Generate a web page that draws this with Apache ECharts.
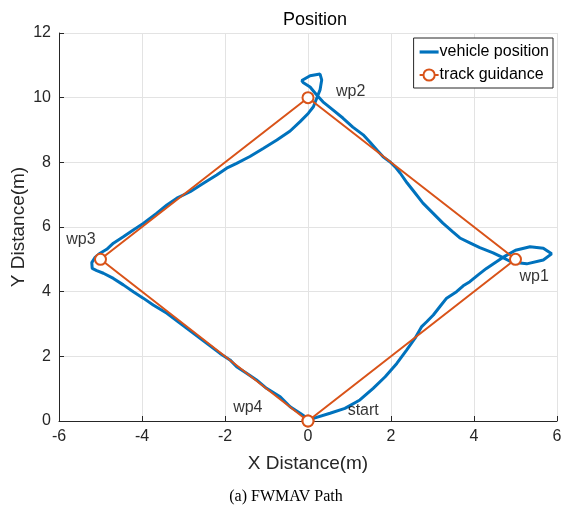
<!DOCTYPE html>
<html>
<head>
<meta charset="utf-8">
<script src="https://cdn.jsdelivr.net/npm/echarts@6/dist/echarts.min.js"></script>
<style>html,body{margin:0;padding:0;background:#fff;}#c{width:563px;height:517px;}</style>
</head>
<body>
<div id="c"></div>
<script>
const xTicks = [-6, -4, -2, 0, 2, 4, 6];
const yTicks = [0, 2, 4, 6, 8, 10, 12];

const vehicleX = [0.05,0.13,0.53,0.89,1.25,1.57,1.86,2.14,2.38,2.58,2.74,2.86,3.02,3.18,3.34,3.58,3.74,3.90,4.10,4.30,4.55,4.75,5.0,5.35,5.67,5.87,5.67,5.27,4.9,4.7,4.46,4.14,3.90,3.66,3.49,3.25,3.01,2.77,2.58,2.39,2.22,2.10,1.98,1.81,1.66,1.49,1.33,1.08,0.84,0.60,0.36,0.2,0.05,-0.11,-0.15,0.05,0.29,0.33,0.29,0.21,0.13,0.01,-0.19,-0.43,-0.75,-1.08,-1.40,-1.72,-1.96,-2.20,-2.52,-2.84,-3.16,-3.40,-3.65,-3.97,-4.21,-4.45,-4.69,-4.85,-5.01,-5.13,-5.21,-5.20,-5.09,-4.93,-4.69,-4.45,-4.21,-3.97,-3.73,-3.40,-3.08,-2.76,-2.44,-2.12,-1.88,-1.72,-1.48,-1.24,-1.00,-0.67,-0.43,-0.19,-0.07,0.0];
const vehicleY = [0.0,0.08,0.24,0.39,0.65,1.01,1.37,1.78,2.20,2.56,2.92,3.07,3.28,3.54,3.80,4.0,4.18,4.31,4.52,4.72,4.93,5.1,5.28,5.39,5.34,5.17,4.98,4.86,4.92,5.05,5.2,5.36,5.51,5.66,5.85,6.12,6.43,6.74,7.05,7.36,7.67,7.86,8.01,8.17,8.38,8.63,8.85,9.09,9.37,9.62,9.87,10.1,10.33,10.46,10.53,10.68,10.73,10.55,10.24,9.98,9.72,9.52,9.26,8.97,8.69,8.43,8.18,7.97,7.82,7.61,7.35,7.09,6.89,6.68,6.42,6.11,5.91,5.70,5.50,5.31,5.19,5.06,4.90,4.72,4.65,4.57,4.41,4.21,4.00,3.80,3.59,3.33,3.02,2.71,2.40,2.09,1.89,1.68,1.48,1.27,1.01,0.75,0.44,0.24,0.13,0.03];

const trackX = [0, 5, 0, -5, 0];
const trackY = [0, 5, 10, 5, 0];

const labelNames = ['wp1', 'wp2', 'wp3', 'wp4', 'start'];
const labelX = [5.45, 1.03, -5.47, -1.45, 1.33];
const labelY = [4.48, 10.2, 5.6, 0.40, 0.31];

const FONT = 'Liberation Sans, Arial, Helvetica, sans-serif';
const chart = echarts.init(document.getElementById('c'), null, {renderer: 'canvas'});
chart.setOption({
  animation: false,
  backgroundColor: '#ffffff',
  title: {
    text: 'Position', left: 310, top: 6, textAlign: 'center',
    textStyle: {fontFamily: FONT, fontSize: 18, fontWeight: 'normal', color: '#000'}
  },
  legend: {
    data: [
      {name: 'vehicle position', icon: 'path://M0,0 L18,0 L18,3 L0,3 Z'},
      {name: 'track guidance'}
    ],
    orient: 'vertical', right: 10, top: 38,
    backgroundColor: '#fff', borderColor: '#262626', borderWidth: 1,
    padding: [6, 4, 5, 5], itemGap: 7, itemWidth: 19, itemHeight: 14,
    textStyle: {fontFamily: FONT, fontSize: 16, color: '#000', padding: [0, 0, 0, -4]}
  },
  grid: {left: 59, right: 6, top: 33, bottom: 96, containLabel: false, outerBoundsMode: 'none'},
  xAxis: {
    type: 'value', min: xTicks[0], max: xTicks[xTicks.length - 1], interval: 2,
    name: 'X Distance(m)', nameLocation: 'middle', nameGap: 33, nameMoveOverlap: false,
    nameTextStyle: {fontFamily: FONT, fontSize: 19, color: '#262626'},
    axisLine: {show: true, onZero: false, lineStyle: {color: '#262626', width: 1}},
    axisTick: {show: true, inside: true, length: 5, lineStyle: {color: '#262626'}},
    axisLabel: {fontFamily: FONT, fontSize: 16, color: '#262626', margin: 8},
    splitLine: {show: true, lineStyle: {color: '#e3e3e3', width: 1}}
  },
  yAxis: {
    type: 'value', min: yTicks[0], max: yTicks[yTicks.length - 1], interval: 2,
    name: 'Y Distance(m)', nameLocation: 'middle', nameGap: 31, nameMoveOverlap: false,
    nameTextStyle: {fontFamily: FONT, fontSize: 19, color: '#262626'},
    axisLine: {show: true, onZero: false, lineStyle: {color: '#262626', width: 1}},
    axisTick: {show: true, inside: true, length: 5, lineStyle: {color: '#262626'}},
    axisLabel: {fontFamily: FONT, fontSize: 16, color: '#262626', margin: 8},
    splitLine: {show: true, lineStyle: {color: '#e3e3e3', width: 1}}
  },
  series: [
    {
      name: 'vehicle position', type: 'line', showSymbol: false, symbol: 'none',
      data: vehicleX.map((x, i) => [x, vehicleY[i]]),
      lineStyle: {color: '#0072BD', width: 3}, itemStyle: {color: '#0072BD'},
      z: 3
    },
    {
      name: 'track guidance', type: 'line', symbol: 'emptyCircle', symbolSize: 11,
      data: trackX.map((x, i) => [x, trackY[i]]),
      lineStyle: {color: '#D95319', width: 2},
      itemStyle: {color: '#D95319', borderColor: '#D95319', borderWidth: 2},
      z: 4
    },
    {
      name: 'labels', type: 'scatter', symbolSize: 0, silent: true,
      data: labelNames.map((n, i) => ({name: n, value: [labelX[i], labelY[i]]})),
      label: {show: true, position: 'inside', formatter: '{b}', fontFamily: FONT, fontSize: 16, color: '#000'},
      z: 5
    }
  ],
  graphic: [{
    type: 'text', x: 286, y: 497,
    style: {text: '(a) FWMAV Path', font: '16px "Liberation Serif", "Times New Roman", serif', fill: '#000', textAlign: 'center', textVerticalAlign: 'middle'}
  }]
});
</script>
</body>
</html>
